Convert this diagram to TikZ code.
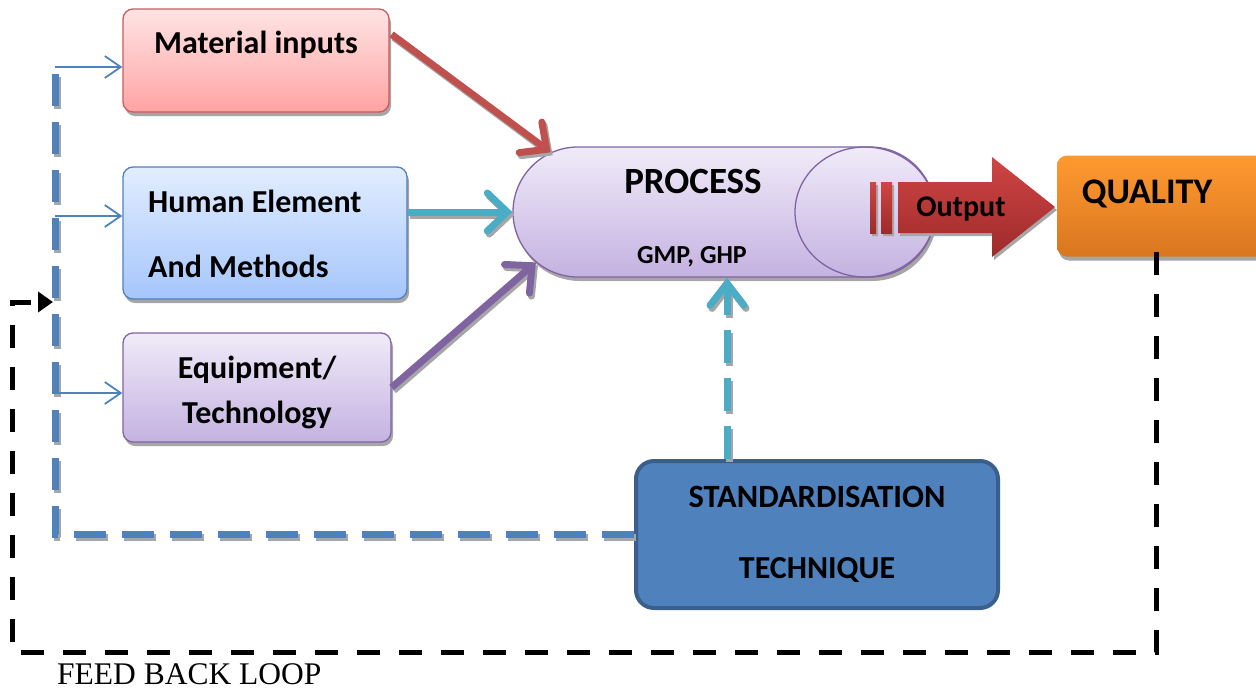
\documentclass[tikz,border=0pt]{standalone}
\usepackage{fontspec}
\setmainfont{Carlito}
\newfontfamily\tms{Liberation Serif}
\usetikzlibrary{arrows.meta,shapes.misc,shadows,calc}
\definecolor{cRed}{HTML}{C0504D}
\definecolor{cCyan}{HTML}{4BACC6}
\definecolor{cPur}{HTML}{8064A2}
\definecolor{cBlue}{HTML}{4F81BD}
\definecolor{cBlueD}{HTML}{3A5F8C}
\definecolor{matT}{HTML}{FFE4E4}
\definecolor{matB}{HTML}{FFA3A3}
\definecolor{matL}{HTML}{CC5A5A}
\definecolor{humT}{HTML}{E2EDFF}
\definecolor{humB}{HTML}{A5C6FB}
\definecolor{equT}{HTML}{F0EBF8}
\definecolor{equB}{HTML}{C4B2E1}
\definecolor{qT}{HTML}{FF9A30}
\definecolor{qB}{HTML}{D9761F}
\definecolor{oT}{HTML}{D04545}
\definecolor{oB}{HTML}{9E2A2A}
\definecolor{shd}{HTML}{A6A6A6}
\newcommand{\thickConnectors}[4]{%
  \draw[bigarrow, draw=#1] ($(mat.north east)+(2,26)$) -- (proc.161);
  \draw[bigarrow, draw=#2] (hum.east |- proc.west) -- (proc.west);
  \draw[bigarrow, draw=#3] (equ.east) -- (proc.195);
  \draw[line width=7pt, draw=#2, dash pattern=on 33pt off 15pt, -{Straight Barb[length=22pt,width=34pt,line cap=round]}] (sA) -- (sA |- proc.south);
  \draw[line width=7pt, draw=#4, dash pattern=on 32pt off 16pt] (std.west) -- (std.west -| bus1) -- (bus1);
}
\begin{document}
\begin{tikzpicture}[x=1pt,y=-1pt,
  box/.style={rounded corners=10pt, line width=1.3pt, inner sep=0pt,
     drop shadow={shadow xshift=2pt, shadow yshift=-4pt, fill=shd, opacity=1}},
  txt/.style={inner sep=0pt, anchor=base, font=\fontsize{32}{38}\selectfont\bfseries},
  bigarrow/.style={line width=7pt, -{Straight Barb[length=20pt,width=38pt,line cap=round]}},
  thinarrow/.style={line width=1.8pt, draw=cBlue, -{Straight Barb[length=16pt,width=22pt]}},
]
\useasboundingbox (0,0) rectangle (1256,689);

% boxes
\node[box, draw=matL, top color=matT, bottom color=matB, minimum width=266pt, minimum height=103pt] (mat) at (256,60.5) {};
\node[box, draw=cBlue, top color=humT, bottom color=humB, minimum width=284pt, minimum height=132pt] (hum) at (265,233) {};
\node[box, draw=cPur, top color=equT, bottom color=equB, minimum width=268pt, minimum height=109pt] (equ) at (257,387.5) {};
\node[box, draw=none, top color=qT, bottom color=qB, minimum width=210pt, minimum height=101pt] (qual) at (1162,206) {};
\node[rounded corners=18pt, draw=cBlueD, line width=4pt, fill=cBlue, minimum width=362pt, minimum height=147pt, inner sep=0pt] (std) at (817,534.5) {};

% process
\node[rounded rectangle, draw=cPur, line width=1.3pt, top color=equT, bottom color=equB, minimum width=422pt, minimum height=130pt, inner sep=0pt,
  drop shadow={shadow xshift=2pt, shadow yshift=-4pt, fill=shd, opacity=1}] (proc) at (724,212) {};
\draw[cPur, line width=1.3pt] (865,212) ellipse [x radius=70, y radius=65];

% output arrow
\fill[shd] (872,185) rectangle (878,236) (883,185) rectangle (894,236);
\fill[shd] (900,185) -- (994,185) -- (994,160) -- (1057,210) -- (994,260) -- (994,236) -- (900,236) -- cycle;
\path[top color=oT, bottom color=oB] (870,182) rectangle (876,233);
\path[top color=oT, bottom color=oB] (881,182) rectangle (892,233);
\path[top color=oT, bottom color=oB] (898,182) -- (992,182) -- (992,157) -- (1055,207) -- (992,257) -- (992,233) -- (898,233) -- cycle;

% texts
\node[txt] at (256,53) {Material inputs};
\node[txt, anchor=base west] at (148,212) {Human Element};
\node[txt, anchor=base west] at (148,277) {And Methods};
\node[txt] at (257,378) {Equipment/};
\node[txt] at (257,423) {Technology};
\node[txt, font=\fontsize{37}{40}\selectfont\bfseries] at (693,193) {PROCESS};
\node[txt, font=\fontsize{26}{30}\selectfont\bfseries] at (692,263) {GMP, GHP};
\node[txt, font=\fontsize{30}{34}\selectfont\bfseries] at (961,216) {Output};
\node[txt, font=\fontsize{36}{40}\selectfont\bfseries] at (1147,203) {QUALITY};
\node[txt, font=\fontsize{32.5}{36}\selectfont\bfseries] at (817,507) {STANDARDISATION};
\node[txt, font=\fontsize{32}{36}\selectfont\bfseries] at (817,578) {TECHNIQUE};
\node[inner sep=0pt, anchor=base west, font=\fontsize{31.5}{34}\selectfont\tms] (fbl) at (57,684) {FEED BACK LOOP};

% connectors with shadows
\coordinate (sA) at ([xshift=-90pt]std.north);
\coordinate (bus1) at (55,67);
\coordinate (bus2) at (55,216);
\coordinate (bus3) at (55,393);
\begin{scope}[transform canvas={xshift=2pt,yshift=-3pt}]
  \thickConnectors{shd}{shd}{shd}{shd}
\end{scope}
\thickConnectors{cRed}{cCyan}{cPur}{cBlue}

\draw[thinarrow] (bus1) -- (bus1 -| mat.west);
\draw[thinarrow] (bus2) -- (bus2 -| hum.west);
\draw[thinarrow] (bus3) -- (bus3 -| equ.west);

% black loop
\coordinate (q1) at ([xshift=-6pt,yshift=5pt]qual.south);
\coordinate (fbIn) at (53,302);
\draw[line width=5pt, dash pattern=on 23pt off 19pt, -{Triangle[length=15pt,width=20pt]}] (q1) |- (12,652) |- (fbIn);
\end{tikzpicture}
\end{document}
